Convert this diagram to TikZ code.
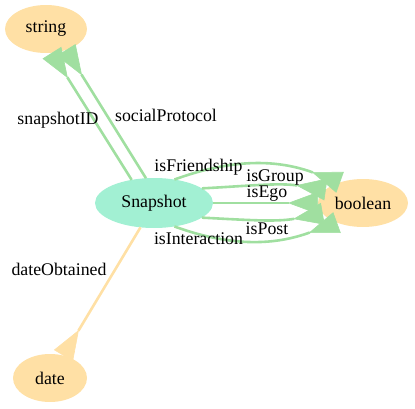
\documentclass[tikz,border=0pt]{standalone}
\usepackage{fontspec}
\setmainfont{Liberation Serif}
\usetikzlibrary{arrows.meta,shapes.geometric}

\definecolor{typefill}{HTML}{FFE0A5}
\definecolor{classfill}{HTML}{A2F0D3}
\definecolor{propgreen}{HTML}{A0DFA0}
\definecolor{propdate}{HTML}{FFE0A5}

\tikzset{
  lbl/.style={font=\fontsize{17.8}{20}\selectfont, inner sep=0pt, outer sep=0pt},
  typenode/.style={lbl, ellipse, fill=typefill},
  classnode/.style={lbl, ellipse, fill=classfill},
  edgetext/.style={lbl, anchor=base},
  invtip/.style={-{Triangle[reversed, length=30pt, width=22pt, line width=0.6pt]}},
  objprop/.style={draw=propgreen, line width=2.6pt, invtip},
  dateprop/.style={draw=propdate, line width=2.6pt, invtip},
}

\begin{document}
\begin{tikzpicture}[x=1pt,y=1pt]
  \useasboundingbox (0,0) rectangle (415,408);

  % class and datatype nodes
  \node[classnode, minimum width=118pt, minimum height=50pt] (snap) at (154,205) {Snapshot};
  \node[typenode, minimum width=82pt, minimum height=48pt] (string) at (46,379) {string};
  \node[typenode, minimum width=90pt, minimum height=48pt] (bool) at (363,205) {boolean};
  \node[typenode, minimum width=74pt, minimum height=48pt] (date) at (50,30) {date};

  % properties with string range
  \draw[objprop] (snap.134) -- (string.-76);
  \draw[objprop] (snap.108) -- (string.-46);

  % properties with boolean range
  \draw[objprop] (snap.49) to[out=20, in=160] (bool.138);
  \draw[objprop] (snap.17) to[out=3, in=172] (bool.160);
  \draw[objprop] (snap.0) -- (bool.180);
  \draw[objprop] (snap.-17) to[out=-3, in=190] (bool.195);
  \draw[objprop] (snap.-49) to[out=-20, in=200] (bool.217);

  % property with date range
  \draw[dateprop] (snap.-119) -- (date.59);

  % property names
  \node[edgetext] (lsid) at (58,284) {snapshotID};
  \node[edgetext] (lsp) at (166,287) {socialProtocol};
  \node[edgetext] (lfr) at (198.5,237) {isFriendship};
  \node[edgetext] (lgr) at (275,227) {isGroup};
  \node[edgetext] (leg) at (267,210.5) {isEgo};
  \node[edgetext] (lpo) at (267,174) {isPost};
  \node[edgetext] (lin) at (198.5,164) {isInteraction};
  \node[edgetext] (ldo) at (59,133) {dateObtained};
\end{tikzpicture}
\end{document}
